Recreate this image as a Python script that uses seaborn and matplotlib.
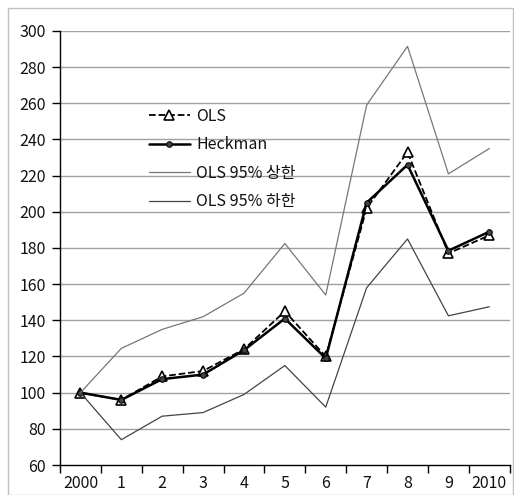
import numpy as np
import pandas as pd
import seaborn as sns
import matplotlib.pyplot as plt
from matplotlib.patches import Rectangle

years = ['2000', '1', '2', '3', '4', '5', '6', '7', '8', '9', '2010']
ols = [100, 96, 109, 112, 124, 145, 120, 202, 233, 177, 187]
heckman = [100, 96, 107.5, 110, 123.5, 141, 119, 205, 226, 178.5, 189]
ols_upper = [100, 124.5, 135, 142, 155, 182.5, 154, 259, 291.5, 221, 235]
ols_lower = [100, 74, 87, 89, 99, 115, 92, 158, 185, 142.5, 147.5]

sns.set_style('white')
plt.rcParams['font.family'] = ['Noto Sans CJK KR', 'DejaVu Sans']

fig = plt.figure(figsize=(5.14, 4.95), dpi=100)
ax = fig.add_axes([0.1167, 0.0606, 0.875, 0.8768])

x = np.arange(len(years))

sns.lineplot(x=x, y=ols, ax=ax, color='black', linestyle='--', linewidth=1.3,
             marker='^', markersize=6.5, markerfacecolor='white',
             markeredgecolor='black', markeredgewidth=1.2, label='OLS')
sns.lineplot(x=x, y=heckman, ax=ax, color='black', linewidth=1.8,
             marker='o', markersize=4, markerfacecolor='#444444',
             markeredgecolor='black', label='Heckman')
sns.lineplot(x=x, y=ols_upper, ax=ax, color='#777777', linewidth=0.9,
             label='OLS 95% 상한')
sns.lineplot(x=x, y=ols_lower, ax=ax, color='#444444', linewidth=0.9,
             label='OLS 95% 하한')

ax.set_ylim(60, 300)
ax.set_yticks(np.arange(60, 301, 20))
ax.set_xlim(-0.5, len(years) - 0.5)
ax.set_xticks(np.arange(-0.5, len(years), 1))
ax.set_xticklabels([])
ax.set_xticks(x, minor=True)
ax.set_xticklabels(years, minor=True)
ax.tick_params(axis='x', which='major', direction='out', length=6, width=1, color='black', bottom=True)
ax.tick_params(axis='x', which='minor', length=0, pad=7, labelsize=11.5)
ax.tick_params(axis='y', direction='out', length=6, width=1, color='black', left=True,
               labelsize=11.5, pad=4)
ax.tick_params(axis='both', which='both', labelcolor='#111111')

for v in np.arange(80, 301, 20):
    ax.axhline(v, color='#a0a0a0', linewidth=1, zorder=0)

for s in ['top', 'right']:
    ax.spines[s].set_visible(False)
for s in ['left', 'bottom']:
    ax.spines[s].set_color('black')
    ax.spines[s].set_linewidth(1)

ax.set_xlabel('')
ax.set_ylabel('')

leg = ax.legend(loc='center left', bbox_to_anchor=(0.165, 0.705), frameon=False,
                fontsize=11.5, handlelength=2.6, labelspacing=0.72, handletextpad=0.4)
for t in leg.get_texts():
    t.set_color('#111111')

fig.patches.append(Rectangle((8 / 514, 0), 1 - 9 / 514, 1 - 8 / 495, transform=fig.transFigure,
                             fill=False, edgecolor='#c0c0c0', linewidth=1))

fig.savefig('out.png', dpi=100)
